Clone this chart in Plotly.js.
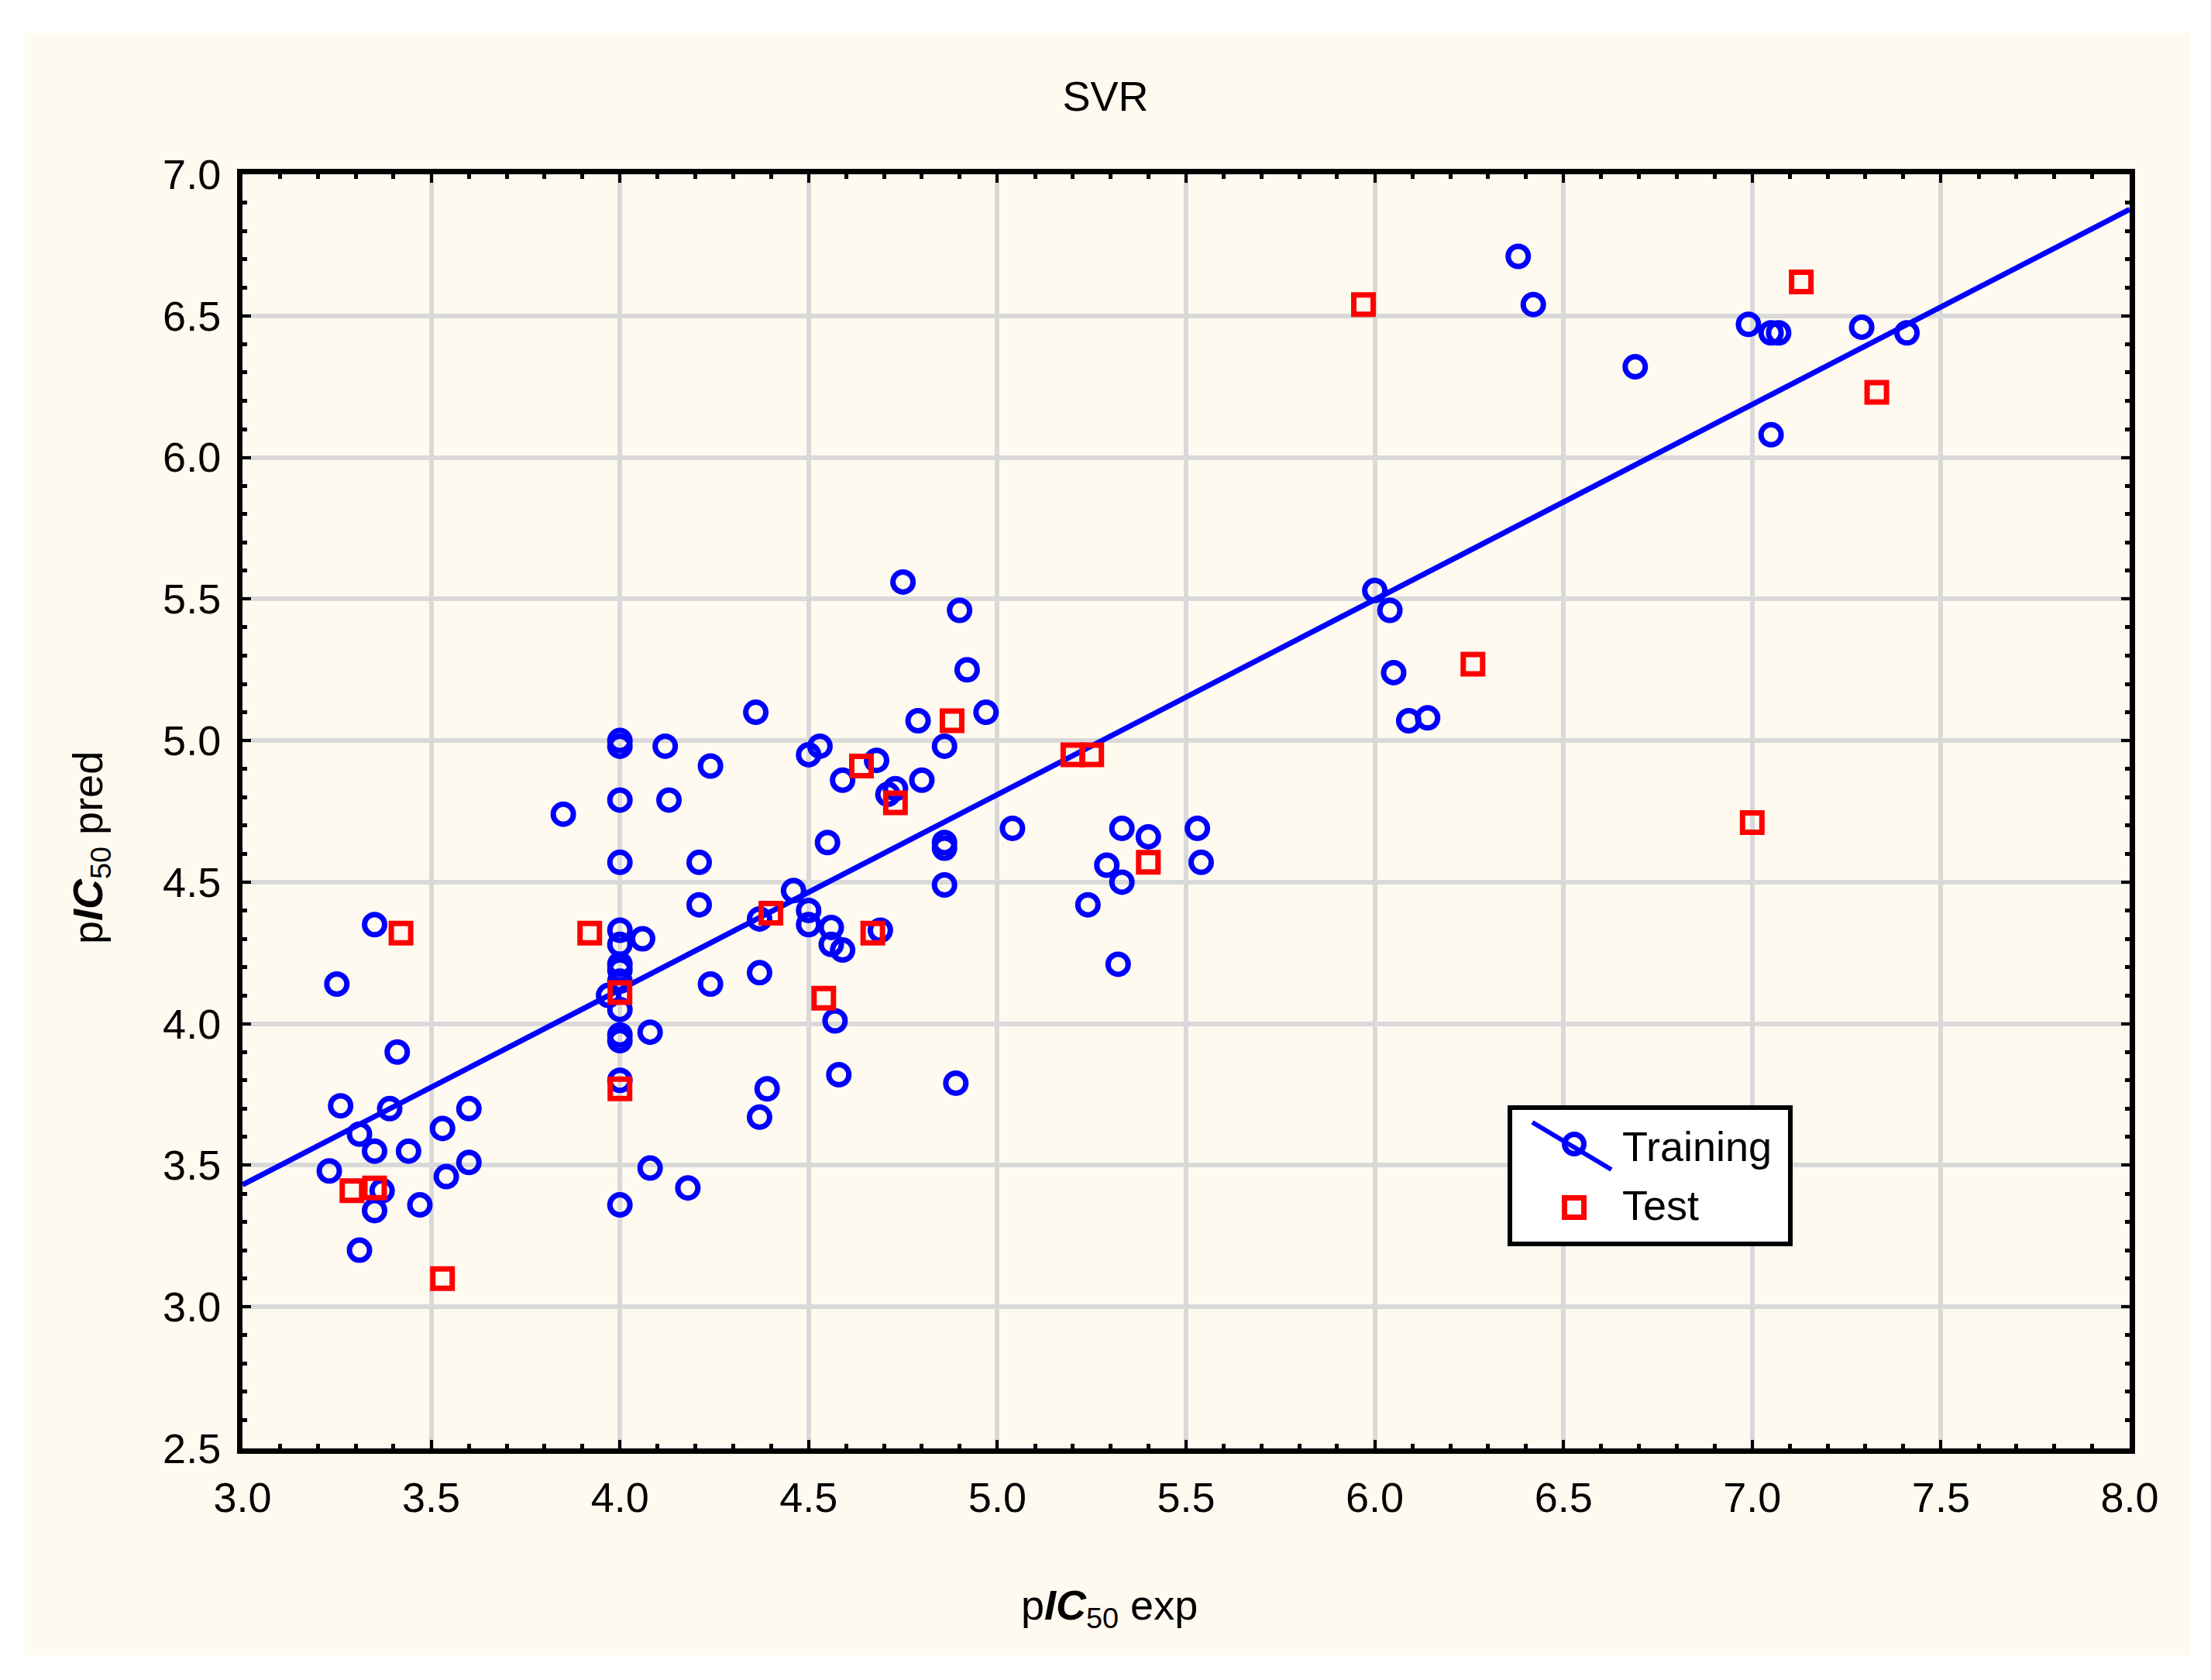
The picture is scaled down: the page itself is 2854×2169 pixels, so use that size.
<!DOCTYPE html>
<html><head><meta charset="utf-8">
<script src="https://cdn.plot.ly/plotly-3.0.1.min.js"></script>
<style>html,body{margin:0;padding:0;background:#fff}#chart{width:2854px;height:2169px}</style>
</head><body><div id="chart"></div>
<script>
// Training set (blue circles): experimental vs predicted pIC50
const trainX = [3.23,3.26,3.25,3.31,3.31,3.35,3.35,3.35,3.37,3.39,3.41,3.44,3.47,3.53,3.54,3.60,3.60,
  3.85,3.97,
  4.00,4.00,4.00,4.00,4.00,4.00,4.00,4.00,4.00,4.00,4.00,4.00,4.00,4.00,
  4.06,4.08,4.08,4.12,4.13,4.18,4.21,4.21,4.24,4.24,4.36,4.37,4.37,4.37,4.39,4.46,4.50,4.50,4.50,4.53,
  4.55,4.56,4.56,4.57,4.58,4.59,4.59,4.68,4.69,4.71,4.73,4.75,4.79,4.80,4.86,4.86,4.86,4.86,4.89,4.90,
  4.92,4.97,5.04,5.24,5.29,5.32,5.33,5.33,5.40,5.53,5.54,6.00,6.04,6.05,6.09,6.14,6.38,6.42,6.69,6.99,
  7.05,7.07,7.05,7.29,7.41];
const trainY = [3.48,3.71,4.14,3.61,3.20,3.55,4.35,3.34,3.41,3.70,3.90,3.55,3.36,3.63,3.46,3.70,3.51,
  4.74,4.10,
  5.00,4.98,4.79,4.57,4.33,4.28,4.21,4.19,4.15,4.05,3.96,3.94,3.80,3.36,
  4.30,3.97,3.49,4.98,4.79,3.42,4.57,4.42,4.91,4.14,5.10,4.37,4.18,3.67,3.77,4.47,4.95,4.40,4.35,4.98,
  4.64,4.34,4.28,4.01,3.82,4.86,4.26,4.93,4.33,4.81,4.83,5.56,5.07,4.86,4.98,4.64,4.62,4.49,3.79,5.46,
  5.25,5.10,4.69,4.42,4.56,4.21,4.69,4.50,4.66,4.69,4.57,5.53,5.46,5.24,5.07,5.08,6.71,6.54,6.32,6.47,
  6.44,6.44,6.08,6.46,6.44];
// Test set (red squares)
const testX = [3.29,3.35,3.42,3.53,3.92,4.00,4.00,4.40,4.54,4.64,4.67,4.73,4.88,5.20,5.25,5.40,5.97,6.26,7.00,7.13,7.33];
const testY = [3.41,3.42,4.32,3.10,4.32,4.11,3.77,4.39,4.09,4.91,4.32,4.78,5.07,4.95,4.95,4.57,6.54,5.27,4.71,6.62,6.23];
// Regression line end points
const fitX = [3.0, 8.0];
const fitY = [3.431, 6.876];
const seriesNames = ['Training', 'Test'];
const chartTitle = 'SVR';
const xTitle = 'p<b><i>IC</i></b><sub>50</sub> exp';
const yTitle = 'p<b><i>IC</i></b><sub>50</sub> pred';

const FONT = 'Arial, "Liberation Sans", sans-serif';
const W = 2854, H = 2169, L = 313, R = 105, T = 225, B = 299;
const pw = W - L - R, ph = H - T - B;
const px = v => (v - L) / pw;
const py = v => (H - B - v) / ph;
const BLUE = '#0000ff', RED = '#ff0000';

const traces = [
  {x: fitX, y: fitY, mode: 'lines', line: {color: BLUE, width: 7}, showlegend: false, hoverinfo: 'skip'},
  {x: trainX, y: trainY, mode: 'markers', name: seriesNames[0], showlegend: false,
   marker: {symbol: 'circle-open', size: 26, color: BLUE, line: {width: 7, color: BLUE}}},
  {x: testX, y: testY, mode: 'markers', name: seriesNames[1], showlegend: false,
   marker: {symbol: 'square-open', size: 25, color: RED, line: {width: 7, color: RED}}}
];

function axis(range) {
  return {
    range: range, dtick: 0.5, tick0: range[0], tickformat: '.1f',
    ticks: 'inside', ticklen: 11, tickwidth: 4, tickcolor: '#000',
    showline: true, linewidth: 7, linecolor: '#000', mirror: 'allticks',
    showgrid: true, gridcolor: '#d9d9d9', gridwidth: 6, zeroline: false,
    tickfont: {family: FONT, size: 54, color: '#000'},
    minor: {dtick: 0.1, ticks: 'inside', ticklen: 6, tickwidth: 5, tickcolor: '#000', showgrid: false},
    fixedrange: true
  };
}
const xa = axis([3, 8]); xa.ticklabelstandoff = 10;
const ya = axis([2.5, 7]); ya.ticklabelstandoff = 10;

const layout = {
  width: W, height: H,
  margin: {l: L, r: R, t: T, b: B, pad: 0},
  paper_bgcolor: '#ffffff', plot_bgcolor: '#ffffff',
  font: {family: FONT, size: 54, color: '#000'},
  title: {text: chartTitle, font: {family: FONT, size: 54, color: '#000'}, x: 0.5, xanchor: 'center', xref: 'container', y: 1 - 124 / H, yanchor: 'middle', yref: 'container'},
  xaxis: xa, yaxis: ya, showlegend: false,
  shapes: [
    {type: 'rect', xref: 'paper', yref: 'paper', layer: 'below', x0: px(32), x1: px(2827), y0: py(2137), y1: py(43), fillcolor: '#fffaf0', line: {width: 0}},
    {type: 'rect', xref: 'paper', yref: 'paper', x0: px(1949), x1: px(2311), y0: py(1606), y1: py(1430), fillcolor: '#ffffff', line: {color: '#000', width: 6}},
    {type: 'line', xref: 'paper', yref: 'paper', x0: px(1978), y0: py(1449), x1: px(2080), y1: py(1510), line: {color: BLUE, width: 6}},
    {type: 'circle', xref: 'paper', yref: 'paper', xsizemode: 'pixel', ysizemode: 'pixel', xanchor: px(2032), yanchor: py(1477), x0: -12.5, x1: 12.5, y0: -12.5, y1: 12.5, line: {color: BLUE, width: 7}},
    {type: 'rect', xref: 'paper', yref: 'paper', xsizemode: 'pixel', ysizemode: 'pixel', xanchor: px(2032), yanchor: py(1559), x0: -12.5, x1: 12.5, y0: -12.5, y1: 12.5, line: {color: RED, width: 7}}
  ],
  annotations: [
    {text: xTitle, xref: 'paper', yref: 'paper', x: px(1432), y: py(2076), xanchor: 'center', yanchor: 'middle', showarrow: false, font: {family: FONT, size: 54, color: '#000'}},
    {text: yTitle, xref: 'paper', yref: 'paper', x: px(117), y: py(1095), xanchor: 'center', yanchor: 'middle', textangle: -90, showarrow: false, font: {family: FONT, size: 54, color: '#000'}},
    {text: seriesNames[0], xref: 'paper', yref: 'paper', x: px(2092), y: py(1480), xanchor: 'left', yanchor: 'middle', showarrow: false, font: {family: FONT, size: 54, color: '#000'}},
    {text: seriesNames[1], xref: 'paper', yref: 'paper', x: px(2092), y: py(1556), xanchor: 'left', yanchor: 'middle', showarrow: false, font: {family: FONT, size: 54, color: '#000'}}
  ]
};
Plotly.newPlot('chart', traces, layout, {displayModeBar: false, staticPlot: true});
</script>
</body></html>
